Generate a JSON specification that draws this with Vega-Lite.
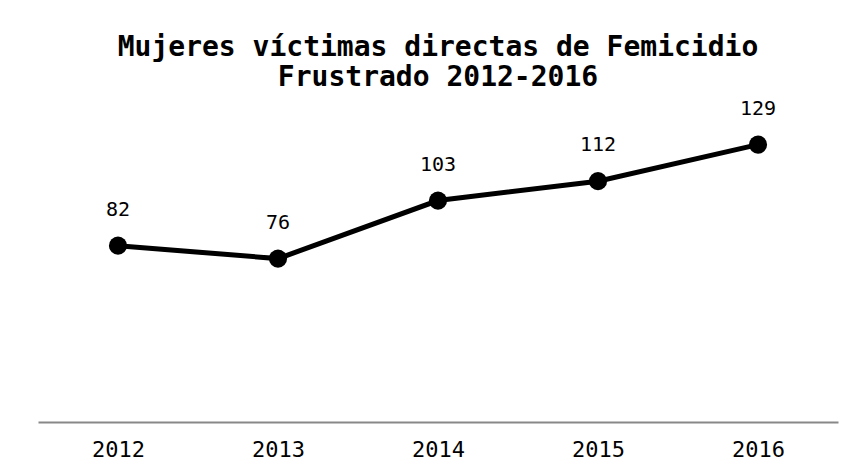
{
  "$schema": "https://vega.github.io/schema/vega-lite/v6.json",
  "width": 800,
  "height": 301,
  "autosize": "none",
  "padding": {"left": 38, "top": 121, "right": 16, "bottom": 49},
  "background": "white",
  "config": {"view": {"stroke": null}, "font": "DejaVu Sans Mono"},
  "title": {
    "text": ["Mujeres víctimas directas de Femicidio", "Frustrado 2012-2016"],
    "font": "DejaVu Sans Mono",
    "fontSize": 28,
    "fontWeight": 600,
    "color": "black",
    "anchor": "middle",
    "lineHeight": 30,
    "offset": 7
  },
  "data": {"values": [
    {"year": "2012", "value": 82},
    {"year": "2013", "value": 76},
    {"year": "2014", "value": 103},
    {"year": "2015", "value": 112},
    {"year": "2016", "value": 129}
  ]},
  "encoding": {
    "x": {"field": "year", "type": "ordinal", "title": null,
      "scale": {"paddingInner": 0, "paddingOuter": 0},
      "axis": {"labelAngle": 0, "ticks": false, "domainColor": "#888888", "domainWidth": 2,
        "labelFont": "DejaVu Sans Mono", "labelFontSize": 22, "labelColor": "black", "labelPadding": 17}},
    "y": {"field": "value", "type": "quantitative", "scale": {"domain": [0, 140]}, "axis": null}
  },
  "layer": [
    {"mark": {"type": "line", "color": "black", "strokeWidth": 5}},
    {"mark": {"type": "point", "filled": true, "color": "black", "size": 330, "opacity": 1}},
    {"mark": {"type": "text", "dy": -36, "fontSize": 20, "font": "DejaVu Sans Mono", "color": "black"},
      "encoding": {"text": {"field": "value", "type": "quantitative"}}}
  ]
}
